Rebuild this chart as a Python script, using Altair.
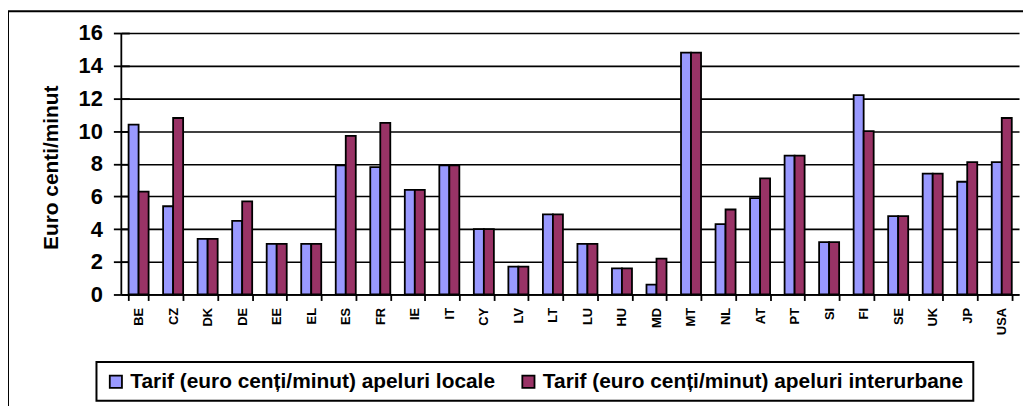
import altair as alt
import pandas as pd

countries = ["BE", "CZ", "DK", "DE", "EE", "EL", "ES", "FR", "IE", "IT", "CY", "LV", "LT",
             "LU", "HU", "MD", "MT", "NL", "AT", "PT", "SI", "FI", "SE", "UK", "JP", "USA"]
local = [10.4, 5.4, 3.4, 4.5, 3.1, 3.1, 7.9, 7.8, 6.4, 7.9, 4.0, 1.7, 4.9,
         3.1, 1.6, 0.6, 14.8, 4.3, 5.9, 8.5, 3.2, 12.2, 4.8, 7.4, 6.9, 8.1]
interurban = [6.3, 10.8, 3.4, 5.7, 3.1, 3.1, 9.7, 10.5, 6.4, 7.9, 4.0, 1.7, 4.9,
              3.1, 1.6, 2.2, 14.8, 5.2, 7.1, 8.5, 3.2, 10.0, 4.8, 7.4, 8.1, 10.8]
series = ["Tarif (euro cenți/minut) apeluri locale",
          "Tarif (euro cenți/minut) apeluri interurbane"]
colors = ["#9999FF", "#993366"]
y_ticks = [0, 2, 4, 6, 8, 10, 12, 14, 16]

rows = []
for c, a, b in zip(countries, local, interurban):
    rows.append({"country": c, "series": series[0], "value": a})
    rows.append({"country": c, "series": series[1], "value": b})
df = pd.DataFrame(rows)

FONT = "Liberation Sans"
W, H = 903, 263

bars = alt.Chart(df).mark_bar(stroke="black", strokeWidth=1.8).encode(
    x=alt.X("country:N", sort=countries,
            scale=alt.Scale(paddingInner=0.42, paddingOuter=0.21),
            axis=alt.Axis(title=None, labelAngle=-90, labelFont=FONT, labelFontSize=13,
                          labelFontWeight="bold", labelColor="black", tickBand="extent",
                          tickColor="black", tickWidth=1.8, tickSize=6,
                          domainColor="black", domainWidth=1.8, labelPadding=7)),
    xOffset=alt.XOffset("series:N", sort=series,
                        scale=alt.Scale(paddingInner=0, paddingOuter=0)),
    y=alt.Y("value:Q", scale=alt.Scale(domain=[0, 16], nice=False),
            axis=alt.Axis(values=y_ticks, title="Euro centi/minut", offset=-8, tickSize=16,
                          domain=False, grid=True, gridColor="black", gridWidth=1.6,
                          tickColor="black", tickWidth=1.8,
                          labelFont=FONT, labelFontSize=22, labelFontWeight="bold",
                          labelColor="black", labelPadding=11,
                          titleFont=FONT, titleFontSize=21, titleFontWeight="bold",
                          titleColor="black", titleX=-78, titleY=135, titleAngle=-90,
                          titleBaseline="middle", titleAlign="center")),
    color=alt.Color("series:N", sort=series,
                    scale=alt.Scale(domain=series, range=colors),
                    legend=alt.Legend(title=None, orient="none", legendX=-25, legendY=331,
                                      direction="horizontal", strokeColor="black",
                                      fillColor="white", padding=9, labelFont=FONT,
                                      labelFontSize=21, labelFontWeight="bold",
                                      labelColor="black", labelLimit=700,
                                      symbolType="square", symbolSize=150,
                                      symbolStrokeColor="black", symbolStrokeWidth=1.8,
                                      symbolOpacity=1, labelOffset=4, columnPadding=22)),
)

one = pd.DataFrame({"k": [0]})
ydomain = alt.Chart(one).mark_rule(color="black", strokeWidth=1.8).encode(
    x=alt.value(0), y=alt.value(0), y2=alt.value(H))
border_v = alt.Chart(one).mark_rule(color="black", strokeWidth=2).encode(
    x=alt.value(-114), y=alt.value(-22), y2=alt.value(420))
border_h = alt.Chart(one).mark_rule(color="black", strokeWidth=2).encode(
    x=alt.value(-114), x2=alt.value(1000), y=alt.value(-22))

chart = alt.layer(bars, ydomain, border_v, border_h).properties(
    width=W, height=H,
    autosize=alt.AutoSizeParams(type="none"),
    padding={"left": 114, "top": 24, "right": 4, "bottom": 111},
).configure_view(stroke=None).configure_legend(strokeWidth=2)

chart.save("out.html", embed_options={"renderer": "svg", "actions": False})
